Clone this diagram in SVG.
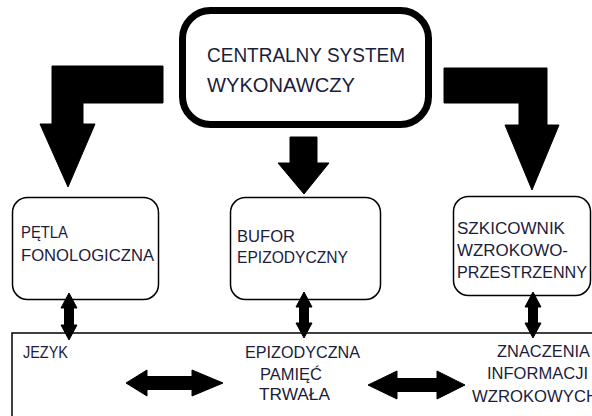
<svg xmlns="http://www.w3.org/2000/svg" width="592" height="416" viewBox="0 0 592 416">
<style>
.t{font-family:"Liberation Sans",Arial,sans-serif;fill:#1c1c3c}
.s{font-size:16px}
.b{font-size:21px}
.box{fill:#fff;stroke:#000;stroke-width:1.5}
.arr{fill:#000;stroke:#000;stroke-width:1;stroke-linejoin:round}
</style>
<rect width="592" height="416" fill="#fff"/>
<g id="memory">
<path d="M12,416 L12,333 L592,333" fill="none" stroke="#000" stroke-width="1.5"/>
<text class="t s" x="23" y="358" textLength="45" lengthAdjust="spacingAndGlyphs">JEZYK</text>
<text class="t s" x="245" y="358" textLength="115" lengthAdjust="spacingAndGlyphs">EPIZODYCZNA</text>
<text class="t s" x="260" y="380" textLength="62" lengthAdjust="spacingAndGlyphs">PAMIĘĆ</text>
<text class="t s" x="259" y="400" textLength="71" lengthAdjust="spacingAndGlyphs">TRWAŁA</text>
<text class="t s" x="497" y="357" textLength="93" lengthAdjust="spacingAndGlyphs">ZNACZENIA</text>
<text class="t s" x="487" y="379" textLength="101" lengthAdjust="spacingAndGlyphs">INFORMACJI</text>
<text class="t s" x="472" y="402" textLength="126" lengthAdjust="spacingAndGlyphs">WZROKOWYCH</text>
</g>
<g id="central">
<rect x="182.5" y="10.5" width="246" height="114" rx="28" fill="#fff" stroke="#000" stroke-width="7"/>
<text class="t b" x="207" y="62" textLength="198" lengthAdjust="spacingAndGlyphs">CENTRALNY SYSTEM</text>
<text class="t b" x="207" y="92" textLength="148" lengthAdjust="spacingAndGlyphs">WYKONAWCZY</text>
</g>
<g id="petla">
<rect class="box" x="12.5" y="197.5" width="146" height="102" rx="15"/>
<text class="t s" x="21" y="238" textLength="47" lengthAdjust="spacingAndGlyphs">PĘTLA</text>
<text class="t s" x="21" y="261" textLength="133" lengthAdjust="spacingAndGlyphs">FONOLOGICZNA</text>
</g>
<g id="bufor">
<rect class="box" x="230.5" y="197.5" width="150" height="102" rx="15"/>
<text class="t s" x="237" y="242" textLength="58" lengthAdjust="spacingAndGlyphs">BUFOR</text>
<text class="t s" x="237" y="263" textLength="111" lengthAdjust="spacingAndGlyphs">EPIZODYCZNY</text>
</g>
<g id="szkicownik">
<rect class="box" x="453.5" y="196.5" width="137" height="99" rx="15"/>
<text class="t s" x="457" y="234" textLength="108" lengthAdjust="spacingAndGlyphs">SZKICOWNIK</text>
<text class="t s" x="457" y="256" textLength="111" lengthAdjust="spacingAndGlyphs">WZROKOWO-</text>
<text class="t s" x="457" y="278" textLength="130" lengthAdjust="spacingAndGlyphs">PRZESTRZENNY</text>
</g>
<g id="connectors">
<path class="arr" d="M163,66 L163,103 L83,103 L83,124 L95,124 L68,187 L40,124 L52,124 L52,66 Z"/>
<path class="arr" d="M444,68 L547,68 L547,125 L559,125 L532,190 L505,125 L519,125 L519,103 L444,103 Z"/>
<path class="arr" d="M290,137 L317,137 L317,163 L329,163 L304,194 L278,163 L290,163 Z"/>
<path class="arr" d="M69,293 L77,308 L73.5,308 L73.5,325 L77,325 L69,340 L61,325 L64.5,325 L64.5,308 L61,308 Z"/>
<path class="arr" d="M304,292 L312,307 L308.5,307 L308.5,323 L312,323 L304,338 L296,323 L299.5,323 L299.5,307 L296,307 Z"/>
<path class="arr" d="M533,292 L541,307 L537.5,307 L537.5,323 L541,323 L533,338 L525,323 L528.5,323 L528.5,307 L525,307 Z"/>
<path class="arr" d="M126,383 L147,370 L147,376.5 L192,376.5 L192,370 L223,383 L192,396 L192,389.5 L147,389.5 L147,396 Z"/>
<path class="arr" d="M368,385 L397,371 L397,378.5 L437,378.5 L437,371 L465,385 L437,399 L437,391.5 L397,391.5 L397,399 Z"/>
</g>
</svg>
